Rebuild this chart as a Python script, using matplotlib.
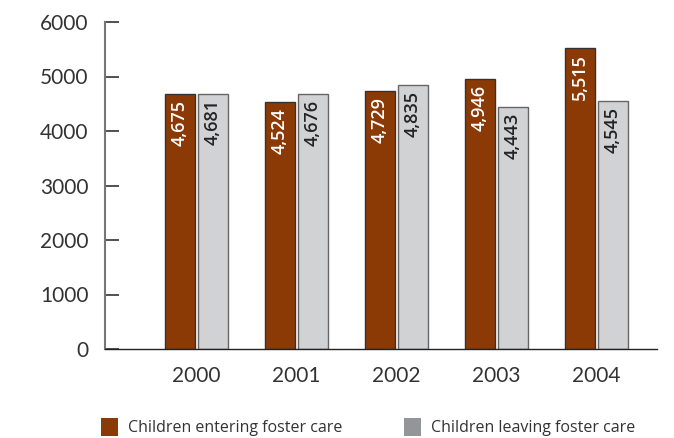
import numpy as np
import matplotlib
matplotlib.use("Agg")
import matplotlib.pyplot as plt
from matplotlib.patches import Patch

years = ["2000", "2001", "2002", "2003", "2004"]
entering = [4675, 4524, 4729, 4946, 5515]
leaving = [4681, 4676, 4835, 4443, 4545]
series_names = ["Children entering foster care", "Children leaving foster care"]

brown = "#8c3a05"
grey = "#d1d2d4"
grey_legend = "#939598"

plt.rcParams["font.family"] = ["Open Sans", "DejaVu Sans"]

fig = plt.figure(figsize=(6.74, 4.38), dpi=100)
ax = fig.add_axes([105 / 674, 1 - 349 / 438, (657 - 105) / 674, (349 - 22) / 438])

x = np.arange(len(years))
w = 0.30
off = 0.165
b1 = ax.bar(x - off, entering, w, color=brown, edgecolor="#333333", linewidth=1)
b2 = ax.bar(x + off, leaving, w, color=grey, edgecolor="#666666", linewidth=1)

# value labels, rotated, inside top of each bar
for bars, vals, col in [(b1, entering, "white"), (b2, leaving, "#222222")]:
    for bar, v in zip(bars, vals):
        ax.annotate(f"{v:,}", (bar.get_x() + bar.get_width() / 2, v),
                    xytext=(0, -4), textcoords="offset points",
                    rotation=90, ha="center", va="top", color=col,
                    fontsize=13, fontweight="semibold")

ax.set_xlim(-0.915, 4.61)
ax.set_ylim(0, 6000)
ax.set_yticks(range(0, 6001, 1000))
ax.set_xticks(x)
ax.set_xticklabels(years)

for s in ["top", "right"]:
    ax.spines[s].set_visible(False)
ax.spines["left"].set_color("#777777")
ax.spines["left"].set_linewidth(1.5)
ax.spines["bottom"].set_color("#222222")
ax.spines["bottom"].set_linewidth(1)

ax.tick_params(axis="y", direction="in", length=10, width=1.2, color="#333333",
               labelsize=15, labelcolor="#333333", pad=12)
ax.tick_params(axis="x", length=0, labelsize=15, labelcolor="#333333", pad=12)
for lab in ax.get_yticklabels() + ax.get_xticklabels():
    lab.set_family(["Lato", "DejaVu Sans"])

handles = [Patch(facecolor=brown), Patch(facecolor=grey_legend)]
fig.legend(handles, series_names, loc="lower left",
           bbox_to_anchor=(99 / 674, 0.0), ncol=2, frameon=False,
           borderaxespad=0, borderpad=0.1,
           fontsize=11.5, handlelength=1.1, handleheight=1.4,
           handletextpad=0.6, columnspacing=3.85, labelcolor="#333333")

fig.savefig("out.png", dpi=100)
